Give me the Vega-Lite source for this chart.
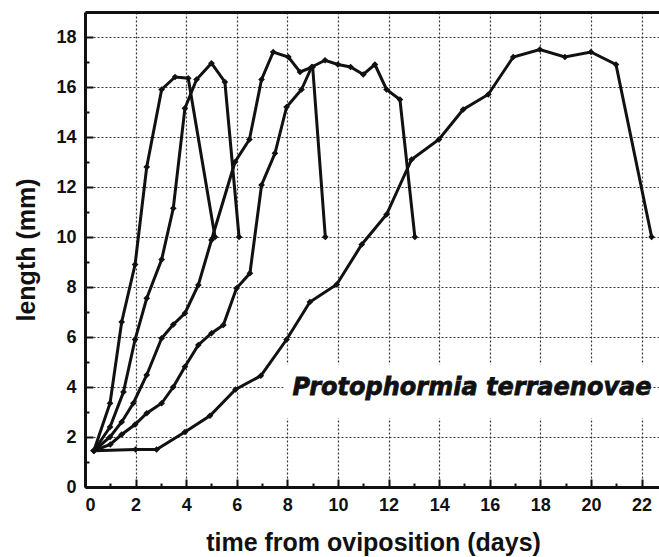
{
  "$schema": "https://vega.github.io/schema/vega-lite/v6.json",
  "width": 576,
  "height": 475,
  "autosize": "none",
  "padding": {"left": 85, "top": 12, "right": 0, "bottom": 70},
  "background": "white",
  "config": {
    "view": {"stroke": null},
    "axis": {
      "labelFont": "Liberation Sans",
      "labelFontWeight": "bold",
      "labelFontSize": 18,
      "labelColor": "#111",
      "titleFont": "Liberation Sans",
      "titleFontWeight": "bold",
      "titleFontSize": 25,
      "titleColor": "#111",
      "domainColor": "#111",
      "domainWidth": 3,
      "tickColor": "#111",
      "tickWidth": 2,
      "gridColor": "#222",
      "gridDash": [2, 2],
      "gridWidth": 1.2,
      "gridOpacity": 0.9
    }
  },
  "data": {"values": [
    {"c": "A", "x": 0.35, "y": 1.45}, {"c": "A", "x": 0.99, "y": 3.35}, {"c": "A", "x": 1.45, "y": 6.6}, {"c": "A", "x": 1.98, "y": 8.9}, {"c": "A", "x": 2.44, "y": 12.8}, {"c": "A", "x": 3.03, "y": 15.9}, {"c": "A", "x": 3.56, "y": 16.4}, {"c": "A", "x": 4.08, "y": 16.35}, {"c": "A", "x": 5.14, "y": 10.0},
    {"c": "B", "x": 0.35, "y": 1.45}, {"c": "B", "x": 0.99, "y": 2.4}, {"c": "B", "x": 1.52, "y": 3.8}, {"c": "B", "x": 1.98, "y": 5.9}, {"c": "B", "x": 2.44, "y": 7.55}, {"c": "B", "x": 3.03, "y": 9.1}, {"c": "B", "x": 3.49, "y": 11.15}, {"c": "B", "x": 3.95, "y": 15.15}, {"c": "B", "x": 4.41, "y": 16.3}, {"c": "B", "x": 5.0, "y": 16.95}, {"c": "B", "x": 5.53, "y": 16.2}, {"c": "B", "x": 6.09, "y": 10.0},
    {"c": "C", "x": 0.35, "y": 1.45}, {"c": "C", "x": 0.99, "y": 2.0}, {"c": "C", "x": 1.45, "y": 2.6}, {"c": "C", "x": 1.91, "y": 3.35}, {"c": "C", "x": 2.44, "y": 4.48}, {"c": "C", "x": 3.03, "y": 5.95}, {"c": "C", "x": 3.49, "y": 6.5}, {"c": "C", "x": 3.95, "y": 6.95}, {"c": "C", "x": 4.48, "y": 8.08}, {"c": "C", "x": 5.0, "y": 9.88}, {"c": "C", "x": 5.93, "y": 13.0}, {"c": "C", "x": 6.5, "y": 13.9}, {"c": "C", "x": 6.98, "y": 16.3}, {"c": "C", "x": 7.44, "y": 17.4}, {"c": "C", "x": 8.04, "y": 17.2}, {"c": "C", "x": 8.5, "y": 16.6}, {"c": "C", "x": 9.0, "y": 16.8}, {"c": "C", "x": 9.5, "y": 10.0},
    {"c": "D", "x": 0.35, "y": 1.45}, {"c": "D", "x": 1.0, "y": 1.7}, {"c": "D", "x": 1.45, "y": 2.1}, {"c": "D", "x": 1.98, "y": 2.5}, {"c": "D", "x": 2.44, "y": 2.95}, {"c": "D", "x": 3.03, "y": 3.35}, {"c": "D", "x": 3.49, "y": 4.0}, {"c": "D", "x": 3.95, "y": 4.81}, {"c": "D", "x": 4.48, "y": 5.68}, {"c": "D", "x": 5.0, "y": 6.15}, {"c": "D", "x": 5.47, "y": 6.48}, {"c": "D", "x": 5.99, "y": 7.95}, {"c": "D", "x": 6.52, "y": 8.55}, {"c": "D", "x": 6.98, "y": 12.08}, {"c": "D", "x": 7.51, "y": 13.35}, {"c": "D", "x": 7.97, "y": 15.2}, {"c": "D", "x": 8.56, "y": 15.9}, {"c": "D", "x": 8.96, "y": 16.8}, {"c": "D", "x": 9.49, "y": 17.07}, {"c": "D", "x": 10.0, "y": 16.9}, {"c": "D", "x": 10.5, "y": 16.8}, {"c": "D", "x": 11.0, "y": 16.5}, {"c": "D", "x": 11.46, "y": 16.9}, {"c": "D", "x": 11.92, "y": 15.9}, {"c": "D", "x": 12.45, "y": 15.5}, {"c": "D", "x": 13.04, "y": 10.0},
    {"c": "E", "x": 0.35, "y": 1.45}, {"c": "E", "x": 2.0, "y": 1.5}, {"c": "E", "x": 2.83, "y": 1.5}, {"c": "E", "x": 3.95, "y": 2.2}, {"c": "E", "x": 4.94, "y": 2.85}, {"c": "E", "x": 5.95, "y": 3.9}, {"c": "E", "x": 6.95, "y": 4.45}, {"c": "E", "x": 7.97, "y": 5.9}, {"c": "E", "x": 8.89, "y": 7.4}, {"c": "E", "x": 9.95, "y": 8.1}, {"c": "E", "x": 10.94, "y": 9.7}, {"c": "E", "x": 11.92, "y": 10.9}, {"c": "E", "x": 12.91, "y": 13.1}, {"c": "E", "x": 13.99, "y": 13.9}, {"c": "E", "x": 14.95, "y": 15.1}, {"c": "E", "x": 15.94, "y": 15.7}, {"c": "E", "x": 16.93, "y": 17.2}, {"c": "E", "x": 17.98, "y": 17.5}, {"c": "E", "x": 18.97, "y": 17.2}, {"c": "E", "x": 20.0, "y": 17.4}, {"c": "E", "x": 20.99, "y": 16.9}, {"c": "E", "x": 22.4, "y": 10.0}
  ]},
  "resolve": {"axis": {"x": "independent", "y": "independent"}},
  "layer": [
    {
      "mark": {"type": "line", "color": "#111", "strokeWidth": 3},
      "encoding": {
        "x": {"field": "x", "type": "quantitative", "scale": {"domain": [0, 22.77], "nice": false, "zero": false},
          "axis": {"orient": "bottom", "values": [0, 2, 4, 6, 8, 10, 12, 14, 16, 18, 20, 22], "tickSize": -8, "labelPadding": 17, "title": "time from oviposition (days)", "titlePadding": 16, "grid": true}},
        "y": {"field": "y", "type": "quantitative", "scale": {"domain": [0, 19], "nice": false},
          "axis": {"orient": "left", "values": [0, 2, 4, 6, 8, 10, 12, 14, 16, 18], "tickSize": -8, "labelPadding": 17, "title": "length (mm)", "titlePadding": 16, "grid": true}},
        "detail": {"field": "c"}
      }
    },
    {
      "mark": {"type": "point", "shape": "diamond", "filled": true, "color": "#111", "size": 45, "opacity": 1},
      "encoding": {
        "x": {"field": "x", "type": "quantitative",
          "axis": {"orient": "bottom", "values": [1, 3, 5, 7, 9, 11, 13, 15, 17, 19, 21], "tickSize": -4, "labels": false, "domain": false, "grid": false, "title": null}},
        "y": {"field": "y", "type": "quantitative",
          "axis": {"orient": "left", "values": [1, 3, 5, 7, 9, 11, 13, 15, 17], "tickSize": -4, "labels": false, "domain": false, "grid": false, "title": null}}
      }
    },
    {
      "data": {"values": [{"label": "Protophormia terraenovae"}]},
      "mark": {"type": "rect", "fill": "white"},
      "encoding": {
        "x": {"datum": 7.85, "type": "quantitative",
          "axis": {"orient": "top", "ticks": false, "labels": false, "grid": false, "title": null, "domain": true}},
        "x2": {"datum": 22.35},
        "y": {"datum": 2.75, "type": "quantitative", "axis": null},
        "y2": {"datum": 4.9}
      }
    },
    {
      "data": {"values": [{"label": "Protophormia terraenovae"}]},
      "mark": {"type": "text", "font": "DejaVu Sans", "fontStyle": "italic", "fontWeight": "bold", "fontSize": 24, "align": "left", "baseline": "middle", "color": "#111", "stroke": "#111", "strokeWidth": 0.8},
      "encoding": {
        "x": {"datum": 8.2, "type": "quantitative", "axis": null},
        "y": {"datum": 3.96, "type": "quantitative", "axis": null},
        "text": {"field": "label"}
      }
    }
  ]
}
